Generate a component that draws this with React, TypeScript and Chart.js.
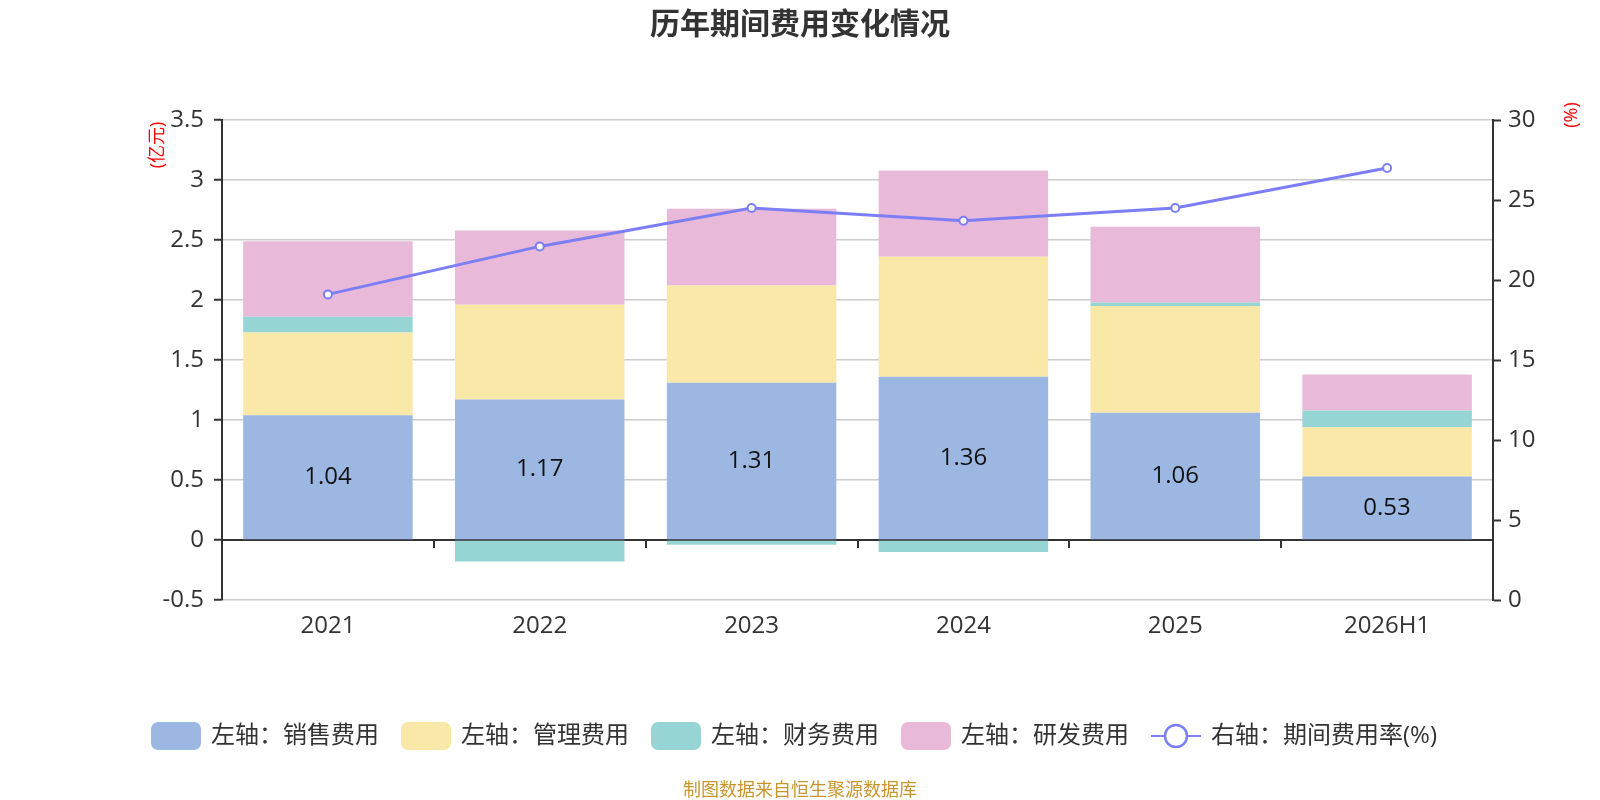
import React, { useEffect, useRef } from 'react';
import { Chart, registerables } from 'chart.js';

Chart.register(...registerables);

// 数据（单位：亿元 / %）
const categories = ['2021', '2022', '2023', '2024', '2025', '2026H1'];
const salesCost = [1.04, 1.17, 1.31, 1.36, 1.06, 0.53];
const adminCost = [0.69, 0.79, 0.81, 1.0, 0.89, 0.41];
const financeCost = [0.13, -0.18, -0.04, -0.1, 0.03, 0.14];
const rdCost = [0.63, 0.62, 0.64, 0.72, 0.63, 0.3];
const expenseRate = [19.1, 22.1, 24.5, 23.7, 24.5, 27.0];

const leftTicks = [-0.5, 0, 0.5, 1, 1.5, 2, 2.5, 3, 3.5];
const rightTicks = [0, 5, 10, 15, 20, 25, 30];

const seriesNames = ['左轴：销售费用', '左轴：管理费用', '左轴：财务费用', '左轴：研发费用', '右轴：期间费用率(%)'];
const colors = ['#9cb8e2', '#f9e8a8', '#97d4d4', '#e8b9d8', '#7b7ef6'];

const FONT = '"Open Sans", "Noto Sans CJK SC", sans-serif';
const CJK = '"Noto Sans CJK SC", sans-serif';

const decorPlugin: any = {
  id: 'decor',
  beforeDatasetsDraw(chart: any) {
    // x 轴画在 0 值处
    const { ctx, chartArea, scales } = chart;
    const y0 = scales.y.getPixelForValue(0);
    ctx.save();
    ctx.strokeStyle = '#333';
    ctx.lineWidth = 2;
    ctx.beginPath();
    ctx.moveTo(chartArea.left, y0);
    ctx.lineTo(chartArea.right, y0);
    for (let i = 0; i <= categories.length; i++) {
      const px = Math.round(scales.x.getPixelForValue(i - 0.5));
      ctx.moveTo(px, y0);
      ctx.lineTo(px, y0 + 8);
    }
    ctx.stroke();
    ctx.restore();
  },
  afterDatasetsDraw(chart: any) {
    const { ctx } = chart;
    const meta = chart.getDatasetMeta(0);
    ctx.save();
    ctx.font = `24px ${FONT}`;
    ctx.fillStyle = '#111';
    ctx.textAlign = 'center';
    ctx.textBaseline = 'middle';
    meta.data.forEach((bar: any, i: number) => {
      const p = bar.getCenterPoint();
      ctx.fillText(salesCost[i].toFixed(2), p.x, p.y);
    });
    ctx.restore();
  },
  afterDraw(chart: any) {
    const { ctx } = chart;
    ctx.save();

    // 标题
    ctx.font = `bold 30px ${CJK}`;
    ctx.fillStyle = '#333';
    ctx.textAlign = 'center';
    ctx.textBaseline = 'middle';
    ctx.fillText('历年期间费用变化情况', 800, 23);

    // 单位
    ctx.fillStyle = '#ff0000';
    ctx.font = `18px ${FONT}`;
    ctx.save();
    ctx.translate(158, 145);
    ctx.rotate(-Math.PI / 2);
    ctx.fillText('(亿元)', 0, 0);
    ctx.restore();
    ctx.save();
    ctx.translate(1572, 115);
    ctx.rotate(-Math.PI / 2);
    ctx.fillText('(%)', 0, 0);
    ctx.restore();

    // 图例
    ctx.font = `24px ${FONT}`;
    const boxW = 50, boxH = 28, gapText = 10, gapItem = 22;
    const widths = seriesNames.map((n) => boxW + gapText + ctx.measureText(n).width);
    const total = widths.reduce((a, b) => a + b, 0) + gapItem * (seriesNames.length - 1);
    let lx = 794 - total / 2;
    const ly = 736;
    seriesNames.forEach((name, i) => {
      if (i < 4) {
        ctx.fillStyle = colors[i];
        ctx.beginPath();
        ctx.roundRect(lx, ly - boxH / 2, boxW, boxH, 7);
        ctx.fill();
      } else {
        ctx.strokeStyle = colors[i];
        ctx.lineWidth = 2;
        ctx.beginPath();
        ctx.moveTo(lx, ly);
        ctx.lineTo(lx + boxW, ly);
        ctx.stroke();
        ctx.beginPath();
        ctx.arc(lx + boxW / 2, ly, 11, 0, Math.PI * 2);
        ctx.fillStyle = '#fff';
        ctx.fill();
        ctx.lineWidth = 2.5;
        ctx.stroke();
      }
      ctx.fillStyle = '#333';
      ctx.textAlign = 'left';
      ctx.textBaseline = 'middle';
      ctx.fillText(name, lx + boxW + gapText, ly);
      lx += widths[i] + gapItem;
    });

    // 来源
    ctx.font = `18px ${CJK}`;
    ctx.fillStyle = '#c9962b';
    ctx.textAlign = 'center';
    ctx.fillText('制图数据来自恒生聚源数据库', 800, 789);

    ctx.restore();
  },
};

const barSet = (label: string, data: number[], color: string) => ({
  type: 'bar',
  label,
  data,
  backgroundColor: color,
  borderWidth: 0,
  yAxisID: 'y',
  barPercentage: 0.8,
  categoryPercentage: 1,
  order: 1,
});

const tickFont = { size: 24, family: FONT };

const App = () => {
  const canvasRef = useRef<HTMLCanvasElement>(null);

  useEffect(() => {
    const config: any = {
      type: 'bar',
      data: {
        labels: categories,
        datasets: [
          barSet(seriesNames[0], salesCost, colors[0]),
          barSet(seriesNames[1], adminCost, colors[1]),
          barSet(seriesNames[2], financeCost, colors[2]),
          barSet(seriesNames[3], rdCost, colors[3]),
          {
            type: 'line',
            label: seriesNames[4],
            data: expenseRate,
            yAxisID: 'yR',
            borderColor: colors[4],
            borderWidth: 3,
            pointRadius: 4,
            pointBackgroundColor: '#fff',
            pointBorderColor: colors[4],
            pointBorderWidth: 2,
            tension: 0,
            order: 0,
          },
        ],
      },
      options: {
        responsive: false,
        animation: false,
        devicePixelRatio: 1,
        layout: { padding: { left: 0, right: 0, top: 120, bottom: 0 } },
        plugins: {
          legend: { display: false },
          title: { display: false },
          tooltip: { enabled: false },
        },
        scales: {
          x: {
            stacked: true,
            offset: true,
            grid: { display: false, drawTicks: false },
            border: { display: false },
            ticks: { color: '#333', font: tickFont, padding: 12 },
            afterFit: (s: any) => { s.height = 200; },
          },
          y: {
            stacked: true,
            position: 'left',
            min: -0.5,
            max: 3.5,
            afterBuildTicks: (s: any) => { s.ticks = leftTicks.map((v) => ({ value: v })); },
            ticks: { color: '#333', font: tickFont, padding: 10, callback: (v: any) => String(v) },
            grid: { color: '#cccccc', lineWidth: 1.5, tickLength: 8, tickColor: '#333', tickWidth: 2 },
            border: { color: '#333', width: 2 },
            afterFit: (s: any) => { s.width = 222; },
          },
          yR: {
            position: 'right',
            min: 0,
            max: 30,
            afterBuildTicks: (s: any) => { s.ticks = rightTicks.map((v) => ({ value: v })); },
            ticks: { color: '#333', font: tickFont, padding: 7, callback: (v: any) => String(v) },
            grid: { drawOnChartArea: false, tickLength: 8, tickColor: '#333', tickWidth: 2 },
            border: { color: '#333', width: 2 },
            afterFit: (s: any) => { s.width = 107; },
          },
        },
      },
      plugins: [decorPlugin],
    };

    const chart = new Chart(canvasRef.current as HTMLCanvasElement, config);
    return () => {
      chart.destroy();
    };
  }, []);

  return (
    <div style={{ position: 'absolute', left: 0, top: 0, width: 1600, height: 800, background: '#fff' }}>
      <canvas ref={canvasRef} width={1600} height={800} style={{ width: 1600, height: 800 }} />
    </div>
  );
};

export default App;
